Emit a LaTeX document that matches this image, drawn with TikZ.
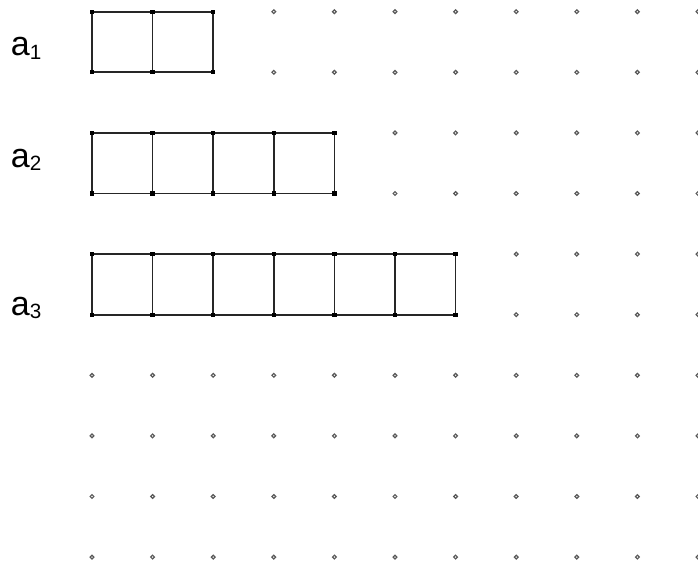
\documentclass[tikz,border=0pt]{standalone}
\usepackage{fontspec}
\setmainfont{Liberation Sans}
\newcommand{\tiefsub}[1]{\raisebox{-2.6pt}{\fontsize{15.5}{15.5}\selectfont #1}}
\begin{document}
\begin{tikzpicture}[x=45.45pt,y=-45.45pt,
  punkt/.style={draw=black!65,fill=white,line width=0.9pt},
  rahmen/.style={draw=black!85,line width=1.3pt},
  ecke/.style={fill=black},
  lbl/.style={font=\fontsize{25.5}{25.5}\selectfont,anchor=base west,inner sep=0pt}]
  \useasboundingbox (-1.518,-0.193) rectangle (10.0,9.163);

  % dot grid
  \foreach \y/\s in {0/3,1/3,2/5,3/5,4/7,5/7,6/0,7/0,8/0,9/0}
  \foreach \x in {\s,...,10}
  \draw[punkt] (\x,\y) circle (1.4pt);

  % strips of squares
  \foreach \y/\n in {0/2,2/4,4/6}{
    \foreach \x in {1,...,\n}
    \draw[rahmen] (\x-1,\y) rectangle (\x,\y+1);
    \foreach \x in {0,...,\n}{
      \fill[ecke,shift={(\x,\y)}] (-1.6pt,-1.6pt) rectangle (1.6pt,1.6pt);
      \fill[ecke,shift={(\x,\y+1)}] (-1.6pt,-1.6pt) rectangle (1.6pt,1.6pt);
    }
  }

  \node[lbl] (a1) at (-1.343,0.731) {a\tiefsub{1}};
  \node[lbl] (a2) at (-1.343,2.563) {a\tiefsub{2}};
  \node[lbl] (a3) at (-1.343,5.005) {a\tiefsub{3}};
\end{tikzpicture}
\end{document}
